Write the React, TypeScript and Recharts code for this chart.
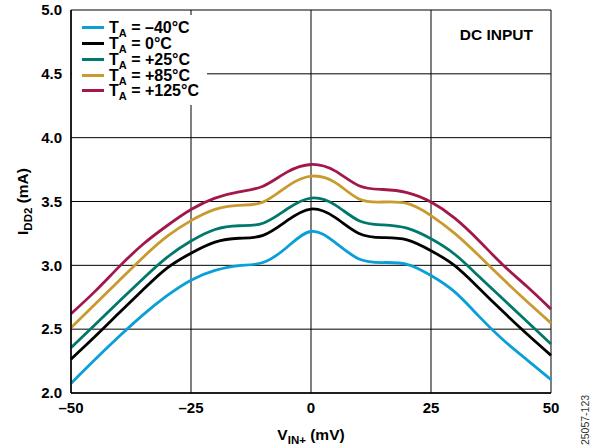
import { LineChart, Line, XAxis, YAxis, CartesianGrid } from 'recharts';

// V_IN+ (mV)
const vin = [-50, -45, -40, -35, -30, -25, -20, -15, -10, -5, 0, 5, 10, 15, 20, 25, 30, 35, 40, 45, 50];

// I_DD2 (mA) per temperature
const tMinus40 = [2.075, 2.262, 2.442, 2.612, 2.762, 2.884, 2.96, 2.998, 3.022, 3.142, 3.265, 3.18, 3.05, 3.022, 3.008, 2.92, 2.79, 2.6, 2.417, 2.26, 2.105];
const t0 = [2.265, 2.442, 2.626, 2.808, 2.978, 3.095, 3.182, 3.212, 3.235, 3.35, 3.441, 3.376, 3.25, 3.217, 3.2, 3.115, 2.996, 2.821, 2.638, 2.462, 2.295];
const t25 = [2.354, 2.534, 2.716, 2.895, 3.062, 3.19, 3.281, 3.31, 3.33, 3.441, 3.527, 3.474, 3.35, 3.317, 3.291, 3.208, 3.085, 2.912, 2.736, 2.56, 2.384];
const t85 = [2.512, 2.696, 2.88, 3.062, 3.226, 3.35, 3.438, 3.47, 3.495, 3.617, 3.698, 3.65, 3.52, 3.496, 3.485, 3.39, 3.248, 3.075, 2.892, 2.716, 2.547];
const t125 = [2.62, 2.796, 2.988, 3.165, 3.31, 3.437, 3.526, 3.575, 3.62, 3.73, 3.79, 3.74, 3.624, 3.594, 3.57, 3.496, 3.368, 3.193, 3.003, 2.834, 2.657];

const xTicks = [-50, -25, 0, 25, 50];
const yTicks = [2.0, 2.5, 3.0, 3.5, 4.0, 4.5, 5.0];

const series = [
    { key: 'tm40', label: '= –40°C', color: '#0a9fd6', values: tMinus40 },
    { key: 't0', label: '= 0°C', color: '#000000', values: t0 },
    { key: 't25', label: '= +25°C', color: '#00786c', values: t25 },
    { key: 't85', label: '= +85°C', color: '#c99a2e', values: t85 },
    { key: 't125', label: '= +125°C', color: '#a3174a', values: t125 },
];

const FONT = '"Liberation Sans", Arial, Helvetica, sans-serif';

const data = vin.map((v, i) => {
    const row: Record<string, number> = { vin: v };
    series.forEach(s => { row[s.key] = s.values[i]; });
    return row;
});

const fmtX = (v: number) => (v < 0 ? `–${Math.abs(v)}` : `${v}`);

export default function App() {
    return (
        <div style={{ position: 'absolute', left: 0, top: 0, width: 605, height: 448, background: '#fff', fontFamily: FONT }}>
            <LineChart width={605} height={448} data={data} margin={{ top: 10, right: 54, bottom: 15, left: 0 }}>
                <CartesianGrid stroke="#000" strokeWidth={1} />
                <XAxis
                    dataKey="vin"
                    type="number"
                    domain={[-50, 50]}
                    ticks={xTicks}
                    tickFormatter={fmtX}
                    height={40}
                    tickSize={0}
                    tickMargin={9}
                    axisLine={{ stroke: '#000', strokeWidth: 1.5 }}
                    tick={{ fill: '#000', fontSize: 15, fontWeight: 700, fontFamily: FONT }}
                    label={{
                        content: ({ viewBox }: any) => {
                            const { x, y, width } = viewBox;
                            return (
                                <text x={x + width / 2} y={y + 47} textAnchor="middle" fill="#000" fontSize={15.5} fontWeight={700} fontFamily={FONT}>
                                    <tspan>V</tspan>
                                    <tspan dy={4} fontSize={11.5}>IN+</tspan>
                                    <tspan dy={-4}> (mV)</tspan>
                                </text>
                            );
                        },
                    }}
                />
                <YAxis
                    type="number"
                    domain={[2, 5]}
                    ticks={yTicks}
                    tickFormatter={(v: number) => v.toFixed(1)}
                    width={71}
                    tickSize={0}
                    tickMargin={9}
                    axisLine={{ stroke: '#000', strokeWidth: 1.5 }}
                    tick={{ fill: '#000', fontSize: 15, fontWeight: 700, fontFamily: FONT }}
                    label={{
                        content: ({ viewBox }: any) => {
                            const { y, height } = viewBox;
                            const cx = 28;
                            const cy = y + height / 2;
                            return (
                                <text x={cx} y={cy} transform={`rotate(-90, ${cx}, ${cy})`} textAnchor="middle" fill="#000" fontSize={15.5} fontWeight={700} fontFamily={FONT}>
                                    <tspan>I</tspan>
                                    <tspan dy={4} fontSize={11.5}>DD2</tspan>
                                    <tspan dy={-4}> (mA)</tspan>
                                </text>
                            );
                        },
                    }}
                />
                {series.map(s => (
                    <Line
                        key={s.key}
                        dataKey={s.key}
                        type="natural"
                        stroke={s.color}
                        strokeWidth={2.8}
                        dot={false}
                        activeDot={false}
                        isAnimationActive={false}
                    />
                ))}
            </LineChart>

            {/* legend box, white so it hides the grid behind it */}
            <div style={{ position: 'absolute', left: 72, top: 15, width: 135, height: 90, background: '#fff', paddingTop: 5, boxSizing: 'border-box' }}>
                {series.map(s => (
                    <div key={s.key} style={{ display: 'flex', alignItems: 'center', height: 15.75 }}>
                        <div style={{ marginLeft: 10, width: 22, height: 3, background: s.color }} />
                        <div style={{ marginLeft: 5, fontSize: 16, fontWeight: 700, lineHeight: '15px', whiteSpace: 'nowrap', color: '#000' }}>
                            T<sub style={{ fontSize: 11, verticalAlign: -4, lineHeight: 0 }}>A</sub> {s.label}
                        </div>
                    </div>
                ))}
            </div>

            <div style={{ position: 'absolute', right: 72, top: 27, fontSize: 15.5, fontWeight: 700, lineHeight: '16px', color: '#000' }}>
                DC INPUT
            </div>

            <div style={{ position: 'absolute', left: 585, top: 420, fontSize: 10.5, color: '#333', whiteSpace: 'nowrap', transform: 'translate(-50%, -50%) rotate(-90deg)' }}>
                25057-123
            </div>
        </div>
    );
}
